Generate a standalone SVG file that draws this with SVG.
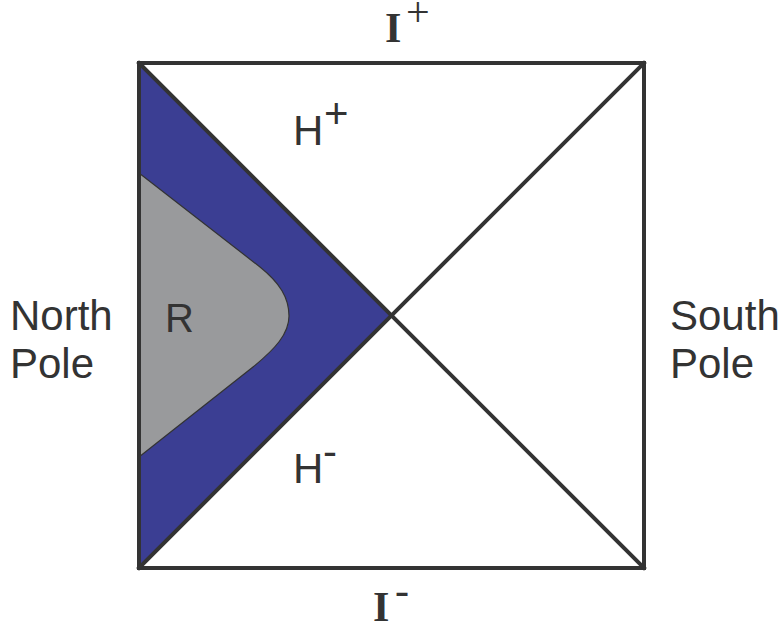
<svg xmlns="http://www.w3.org/2000/svg" width="784" height="627" viewBox="0 0 784 627">
<style>
.t{font-family:"Liberation Sans",Arial,sans-serif;fill:#333;}
.s{font-family:"Liberation Serif","Times New Roman",serif;fill:#333;}
.b{font-weight:bold;}
.ln{stroke:#333;stroke-width:4;fill:none;stroke-linecap:square;}
</style>
<rect width="784" height="627" fill="#fff"/>
<g id="region-blue">
<polygon points="139,63 391.5,315.5 139,568" fill="#3b3e93"/>
</g>
<g id="region-R">
<path d="M139,173 L260,267 C280,283 289,298 289,316 C289,334 275,349 253,367 L139,457 Z" fill="#999a9c" stroke="#333" stroke-width="1.2"/>
<text class="t" x="165" y="332" font-size="40">R</text>
</g>
<g id="connectors">
<rect class="ln" x="139" y="63" width="505" height="505"/>
<line class="ln" x1="139" y1="63" x2="644" y2="568"/>
<line class="ln" x1="139" y1="568" x2="644" y2="63"/>
</g>
<g id="label-Iplus">
<text class="s b" x="385" y="42" font-size="42">I</text>
<text class="s" x="406" y="26" font-size="42">+</text>
</g>
<g id="label-Iminus">
<text class="s b" x="373" y="621" font-size="42">I</text>
<text class="s" x="395" y="604" font-size="42">-</text>
</g>
<g id="label-Hplus">
<text class="t" x="293" y="145" font-size="42">H</text>
<text class="t" x="324" y="128" font-size="42">+</text>
</g>
<g id="label-Hminus">
<text class="t" x="293" y="483" font-size="42">H</text>
<text class="t" x="323" y="466" font-size="42">-</text>
</g>
<g id="label-north">
<text class="t" x="10" y="329.5" font-size="42">North</text>
<text class="t" x="10" y="377.5" font-size="42">Pole</text>
</g>
<g id="label-south">
<text class="t" x="670" y="329.5" font-size="42">South</text>
<text class="t" x="670" y="377.5" font-size="42">Pole</text>
</g>
</svg>
